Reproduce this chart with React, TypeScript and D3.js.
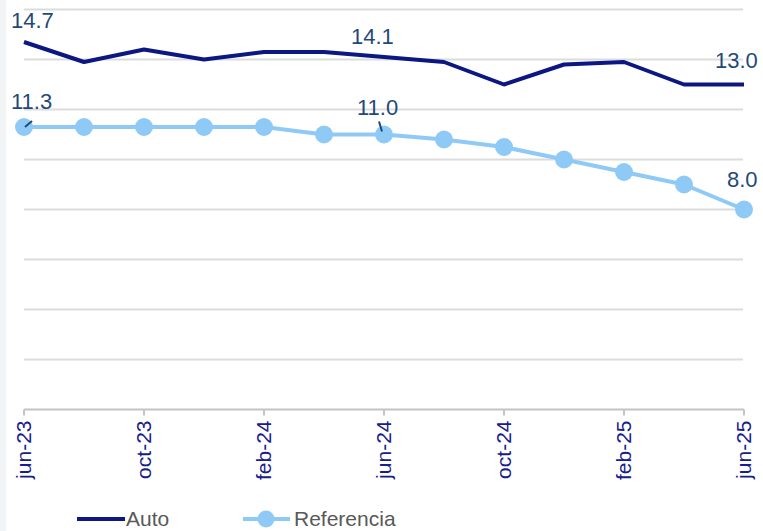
import React from "react";
import * as d3 from "d3";

const months = ["jun-23","ago-23","oct-23","dic-23","feb-24","abr-24","jun-24","ago-24","oct-24","dic-24","feb-25","abr-25","jun-25"];
const tickLabels = ["jun-23","oct-23","feb-24","jun-24","oct-24","feb-25","jun-25"];
const auto = [14.7, 13.9, 14.4, 14.0, 14.3, 14.3, 14.1, 13.9, 13.0, 13.8, 13.9, 13.0, 13.0];
const referencia = [11.3, 11.3, 11.3, 11.3, 11.3, 11.0, 11.0, 10.8, 10.5, 10.0, 9.5, 9.0, 8.0];
const yTicks = [0, 2, 4, 6, 8, 10, 12, 14, 16];

const W = 763, H = 531;
const AUTO_C = "#0c1782";
const REF_C = "#8fcaf7";
const LABEL_C = "#1f4a78";
const TICK_C = "#17208a";
const FONT = "'Liberation Sans', Arial, sans-serif";

export default function App() {
  const x = d3.scalePoint<string>().domain(months).range([24, 744]);
  const y = d3.scaleLinear().domain([0, 16]).range([409.5, 9.5]);
  const lineGen = d3.line<number>().x((_, i) => x(months[i])!).y((d) => y(d));

  const labels = [
    { s: auto, i: 0, dx: -13, dy: -14 },
    { s: auto, i: 6, dx: -33, dy: -13 },
    { s: auto, i: 12, dx: -29, dy: -17 },
    { s: referencia, i: 0, dx: -13, dy: -18 },
    { s: referencia, i: 6, dx: -27, dy: -20 },
    { s: referencia, i: 12, dx: -17, dy: -23 },
  ];

  return (
    <svg width={W} height={H} style={{ position: "absolute", left: 0, top: 0, background: "#fff" }} fontFamily={FONT}>
      <rect x={0} y={0} width={6} height={H} fill="#f3f4f5" />
      {yTicks.slice(1).map((t) => (
        <line key={t} x1={24} x2={743} y1={y(t)} y2={y(t)} stroke="#dcdcdc" strokeWidth={2} />
      ))}
      <line x1={24} x2={744} y1={y(0)} y2={y(0)} stroke="#c4c4c4" strokeWidth={2} />
      {tickLabels.map((t) => (
        <g key={t} transform={`translate(${x(t)},${y(0)})`}>
          <line y1={0} y2={6} stroke="#c4c4c4" strokeWidth={2} />
          <text transform="rotate(-90)" x={-11} y={7} textAnchor="end" fontSize={21} fill={TICK_C}>{t}</text>
        </g>
      ))}
      <path d={lineGen(auto)!} fill="none" stroke={AUTO_C} strokeWidth={4} strokeLinejoin="round" />
      <path d={lineGen(referencia)!} fill="none" stroke={REF_C} strokeWidth={4} strokeLinejoin="round" />
      {referencia.map((v, i) => (
        <circle key={i} cx={x(months[i])} cy={y(v)} r={9} fill={REF_C} />
      ))}
      <line x1={x(months[0])! + 1} y1={y(referencia[0])} x2={x(months[0])! + 8} y2={y(referencia[0]) - 6} stroke={LABEL_C} strokeWidth={2} />
      <line x1={x(months[6])! - 5} y1={y(referencia[6]) - 13} x2={x(months[6])! - 2} y2={y(referencia[6]) - 3} stroke={LABEL_C} strokeWidth={2} />
      {labels.map((l, k) => (
        <text key={k} x={x(months[l.i])! + l.dx} y={y(l.s[l.i]) + l.dy} fontSize={22} fill={LABEL_C}>
          {l.s[l.i].toFixed(1)}
        </text>
      ))}
      <g>
        <line x1={77} x2={125} y1={519} y2={519} stroke={AUTO_C} strokeWidth={4} />
        <text x={126} y={526} fontSize={21} fill="#595959">Auto</text>
        <line x1={243} x2={290} y1={519} y2={519} stroke={REF_C} strokeWidth={4} />
        <circle cx={266} cy={519} r={8.5} fill={REF_C} />
        <text x={294} y={526} fontSize={21} fill="#595959">Referencia</text>
      </g>
    </svg>
  );
}
